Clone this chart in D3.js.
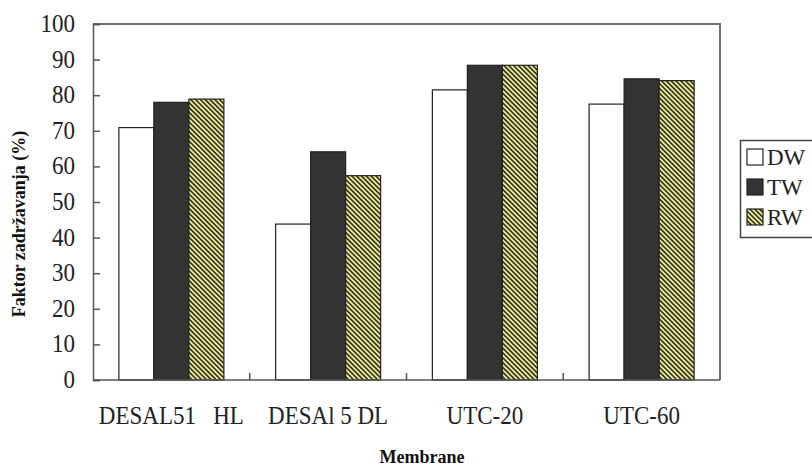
<!DOCTYPE html>
<html>
<head>
<meta charset="utf-8">
<script src="https://cdn.jsdelivr.net/npm/d3@7"></script>
<style>
  body { margin: 0; background: #fff; }
  text { font-family: "Liberation Serif", "Times New Roman", "DejaVu Serif", serif; }
</style>
</head>
<body>
<svg id="canvas"></svg>
<script>
// data
let membranes = ['DESAL51   HL', 'DESAl 5 DL', 'UTC-20', 'UTC-60'];
let series = ['DW', 'TW', 'RW'];
let dwValues = [70.9, 43.8, 81.5, 77.5];
let twValues = [78.0, 64.1, 88.4, 84.6];
let rwValues = [78.9, 57.4, 88.4, 84.1];
let yTicks = [0, 10, 20, 30, 40, 50, 60, 70, 80, 90, 100];

let width = 812;
let height = 466;
let padLeft = 93, padRight = 720, padTop = 24, padBottom = 380;

let canvas = d3.select('#canvas')
    .attr('width', width)
    .attr('height', height);

// hatch for RW
let defs = canvas.append('defs');
let pat = defs.append('pattern')
    .attr('id', 'hatch')
    .attr('patternUnits', 'userSpaceOnUse')
    .attr('width', 3.4)
    .attr('height', 3.4)
    .attr('patternTransform', 'rotate(-45)');
pat.append('rect').attr('width', 3.4).attr('height', 3.4).attr('fill', '#ecec9c');
pat.append('line')
    .attr('x1', 0.8).attr('y1', 0).attr('x2', 0.8).attr('y2', 3.4)
    .attr('stroke', '#34341e').attr('stroke-width', 1.7);

let fills = { DW: '#ffffff', TW: '#333333', RW: 'url(#hatch)' };

let rows = membranes.map((m, i) => {
    return { name: m, DW: dwValues[i], TW: twValues[i], RW: rwValues[i] };
});

let xScale = d3.scaleBand()
    .domain(membranes)
    .range([padLeft, padRight])
    .paddingInner(0.33)
    .paddingOuter(0.165);

let subScale = d3.scaleBand()
    .domain(series)
    .range([0, xScale.bandwidth()]);

let yScale = d3.scaleLinear()
    .domain([0, 100])
    .range([padBottom, padTop]);

// plot frame (top and right)
canvas.append('path')
    .attr('d', 'M' + padLeft + ',' + padTop + 'H' + padRight + 'V' + padBottom)
    .attr('fill', 'none')
    .attr('stroke', '#6e6e6e')
    .attr('stroke-width', 2);

// bars
let groups = canvas.selectAll('g.group')
    .data(rows)
    .enter()
    .append('g')
    .attr('class', 'group')
    .attr('transform', (d) => 'translate(' + xScale(d.name) + ',0)');

groups.selectAll('rect')
    .data((d) => series.map((s) => ({ key: s, value: d[s] })))
    .enter()
    .append('rect')
    .attr('x', (d) => subScale(d.key))
    .attr('y', (d) => yScale(d.value))
    .attr('width', subScale.bandwidth())
    .attr('height', (d) => yScale(0) - yScale(d.value))
    .attr('fill', (d) => fills[d.key])
    .attr('stroke', '#222')
    .attr('stroke-width', 1.2);

// y axis, ticks pointing inward
let yAxis = d3.axisRight(yScale)
    .tickValues(yTicks)
    .tickSize(7)
    .tickFormat('');

let yg = canvas.append('g')
    .attr('transform', 'translate(' + padLeft + ',0)')
    .call(yAxis);
yg.select('.domain').attr('stroke', '#555').attr('stroke-width', 1.5);
yg.selectAll('.tick line').attr('stroke', '#555').attr('stroke-width', 1.5);

// tick labels: the source picture is a bit squeezed sideways
canvas.append('g')
    .selectAll('text')
    .data(yTicks)
    .enter()
    .append('text')
    .attr('transform', (d) => 'translate(75,' + (yScale(d) + 8) + ') scale(0.92,1)')
    .attr('text-anchor', 'end')
    .attr('font-size', 25)
    .attr('fill', '#222')
    .text((d) => d);

// x axis with separator ticks between groups
let xg = canvas.append('g')
    .attr('transform', 'translate(0,' + padBottom + ')');
xg.append('line')
    .attr('x1', padLeft).attr('x2', padRight)
    .attr('stroke', '#555').attr('stroke-width', 1.5);
let step = xScale.step();
let seps = membranes.slice(1).map((m) => xScale(m) - step * 0.33 / 2);
xg.selectAll('line.sep')
    .data(seps)
    .enter()
    .append('line')
    .attr('class', 'sep')
    .attr('x1', (d) => d).attr('x2', (d) => d)
    .attr('y1', 0).attr('y2', -7)
    .attr('stroke', '#555').attr('stroke-width', 1.5);

canvas.append('g')
    .selectAll('text')
    .data(membranes)
    .enter()
    .append('text')
    .attr('transform', (d) => 'translate(' + (xScale(d) + xScale.bandwidth() / 2) + ',423.5) scale(0.92,1)')
    .attr('text-anchor', 'middle')
    .attr('font-size', 25)
    .attr('fill', '#222')
    .style('white-space', 'pre')
    .text((d) => d);

// axis titles
canvas.append('text')
    .attr('transform', 'translate(25,224) rotate(-90)')
    .attr('text-anchor', 'middle')
    .attr('font-size', 18)
    .attr('font-weight', 'bold')
    .attr('fill', '#111')
    .text('Faktor zadržavanja (%)');

canvas.append('text')
    .attr('x', 422)
    .attr('y', 463)
    .attr('text-anchor', 'middle')
    .attr('font-size', 18)
    .attr('font-weight', 'bold')
    .attr('fill', '#111')
    .text('Membrane');

// legend
let legend = canvas.append('g');
legend.append('rect')
    .attr('x', 740.5).attr('y', 140.5)
    .attr('width', 80).attr('height', 97)
    .attr('fill', '#fff')
    .attr('stroke', '#444')
    .attr('stroke-width', 1.5);

let items = legend.selectAll('g.item')
    .data(series)
    .enter()
    .append('g')
    .attr('class', 'item')
    .attr('transform', (d, i) => 'translate(747,' + (157 + i * 30) + ')');

items.append('rect')
    .attr('x', 0).attr('y', -8)
    .attr('width', 16).attr('height', 16)
    .attr('fill', (d) => fills[d])
    .attr('stroke', '#222')
    .attr('stroke-width', 1.2);

items.append('text')
    .attr('x', 20)
    .attr('y', 8)
    .attr('font-size', 23)
    .attr('fill', '#222')
    .text((d) => d);
</script>
</body>
</html>
